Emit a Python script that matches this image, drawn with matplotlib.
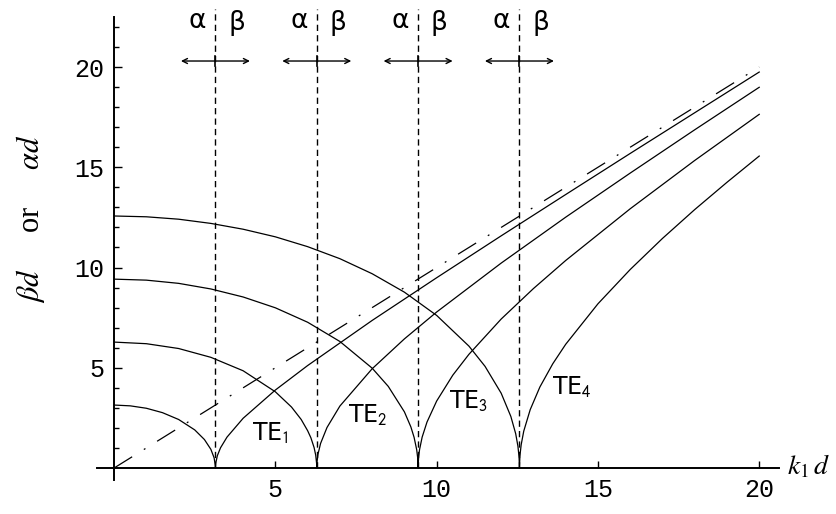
import matplotlib
matplotlib.use('Agg')
import matplotlib.pyplot as plt

plt.rcParams['mathtext.fontset'] = 'stix'

# cut-off points n*pi (vertical dashed lines)
cutoffs = [3.1416, 6.2832, 9.4248, 12.566]

# TE1  (alpha branch to the left of cut-off, beta branch to the right)
te1_x = [0, 0.5, 1.0, 1.5, 2.0, 2.5, 2.8, 3.0, 3.1, 3.14, 3.1416,
         3.15, 3.2, 3.3, 3.5, 4, 5, 6, 8, 10, 12, 14, 16, 18, 20]
te1_y = [3.14, 3.10, 2.98, 2.76, 2.42, 1.90, 1.42, 0.93, 0.51, 0.10, 0,
         0.23, 0.61, 1.01, 1.54, 2.48, 3.89, 5.11, 7.36, 9.49, 11.58, 13.64, 15.69, 17.72, 19.75]

# TE2
te2_x = [0, 1, 2, 3, 4, 5, 5.5, 5.8, 6.0, 6.1, 6.2, 6.25, 6.28, 6.2832,
         6.29, 6.32, 6.4, 6.6, 7, 8, 9, 10, 12, 14, 16, 18, 20]
te2_y = [6.28, 6.20, 5.96, 5.52, 4.85, 3.80, 3.04, 2.42, 1.86, 1.51, 1.02, 0.64, 0.20, 0,
         0.29, 0.68, 1.22, 2.02, 3.09, 4.95, 6.44, 7.78, 10.22, 12.51, 14.71, 16.87, 18.99]

# TE3
te3_x = [0, 1, 2, 3, 4, 5, 6, 7, 8, 8.5, 9.0, 9.2, 9.3, 9.38, 9.41, 9.4248,
         9.44, 9.47, 9.55, 9.7, 10, 10.5, 11, 12, 13, 14, 16, 18, 20]
te3_y = [9.42, 9.37, 9.21, 8.93, 8.53, 7.99, 7.27, 6.31, 4.98, 4.07, 2.80, 2.05, 1.53, 0.92, 0.53, 0,
         0.54, 0.92, 1.54, 2.29, 3.34, 4.63, 5.67, 7.43, 8.95, 10.35, 12.93, 15.34, 17.64]

# TE4
te4_x = [0, 1, 2, 3, 4, 5, 6, 7, 8, 9, 10, 11, 11.5, 12, 12.3, 12.45, 12.52, 12.555, 12.566,
         12.58, 12.62, 12.7, 12.9, 13.2, 13.6, 14, 15, 16, 17, 18, 19, 20]
te4_y = [12.57, 12.53, 12.41, 12.20, 11.91, 11.53, 11.04, 10.44, 9.69, 8.77, 7.61, 6.08, 5.07, 3.73,
         2.57, 1.71, 1.08, 0.53, 0,
         0.59, 1.16, 1.84, 2.91, 4.04, 5.20, 6.17, 8.19, 9.90, 11.45, 12.89, 14.25, 15.56]

# light line beta d = k1 d
light_x = [0, 20]
light_y = [0, 20]

mode_labels = [r'TE$_\mathsf{1}$', r'TE$_\mathsf{2}$', r'TE$_\mathsf{3}$', r'TE$_\mathsf{4}$']
label_pos = [(4.28, 1.75), (7.26, 2.65), (10.39, 3.3), (13.58, 4.0)]

x_ticks = [5, 10, 15, 20]
y_ticks = [5, 10, 15, 20]
y_minor = [1, 2, 3, 4, 6, 7, 8, 9, 11, 12, 13, 14, 16, 17, 18, 19, 21, 22]

fig = plt.figure(figsize=(8.37, 5.14), dpi=100)
ax = fig.add_axes([0.1159, 0.0661, 0.8143, 0.9010])

for xs, ys in [(te1_x, te1_y), (te2_x, te2_y), (te3_x, te3_y), (te4_x, te4_y)]:
    ax.plot(xs, ys, color='black', lw=0.9)

ax.plot(light_x, light_y, color='black', lw=0.9, dashes=(17, 11, 1.5, 11))

for c in cutoffs:
    ax.plot([c, c], [0, 22.9], color='black', lw=1.0, dashes=(4.5, 3), clip_on=False)
    # alpha <-> beta arrows
    ax.annotate('', xy=(c - 1.07, 20.3), xytext=(c, 20.3),
                arrowprops=dict(arrowstyle='->', lw=1.0, color='black',
                                shrinkA=0, shrinkB=0, mutation_scale=9))
    ax.annotate('', xy=(c + 1.07, 20.3), xytext=(c, 20.3),
                arrowprops=dict(arrowstyle='->', lw=1.0, color='black',
                                shrinkA=0, shrinkB=0, mutation_scale=9))
    ax.plot([c, c], [20.05, 20.55], color='black', lw=1.2, clip_on=False)
    ax.text(c - 0.55, 22.3, 'α', ha='center', va='center', fontsize=19,
            family='DejaVu Sans')
    ax.text(c + 0.66, 22.2, 'β', ha='center', va='center', fontsize=19,
            family='DejaVu Sans')

for lab, (lx, ly) in zip(mode_labels, label_pos):
    ax.text(lx, ly, lab, ha='left', va='center', fontsize=17, family='DejaVu Sans')

ax.set_xlim(-0.53, 20.6)
ax.set_ylim(-0.6, 22.5)

for s in ['top', 'right']:
    ax.spines[s].set_visible(False)
ax.spines['left'].set_position(('data', 0))
ax.spines['bottom'].set_position(('data', 0))
ax.spines['left'].set_linewidth(1.4)
ax.spines['bottom'].set_linewidth(1.4)

ax.set_xticks(x_ticks)
ax.set_yticks(y_ticks)
ax.set_yticks(y_minor, minor=True)
ax.tick_params(axis='both', which='major', direction='in', length=5, width=1.0,
               labelsize=18, pad=7)
ax.tick_params(axis='y', which='major', length=6)
ax.tick_params(axis='y', which='minor', direction='in', length=3.5, width=1.0)
for t in ax.get_xticklabels() + ax.get_yticklabels():
    t.set_family('Liberation Mono')

fig.text(0.036, 0.575, r'$\beta d$     or     $\alpha d$', rotation=90, ha='center', va='center',
         fontsize=22, family='Liberation Serif')
ax.text(20.85, 0.1, r'$k_1\,d$', ha='left', va='center', fontsize=20)

fig.savefig('out.png', dpi=100)
